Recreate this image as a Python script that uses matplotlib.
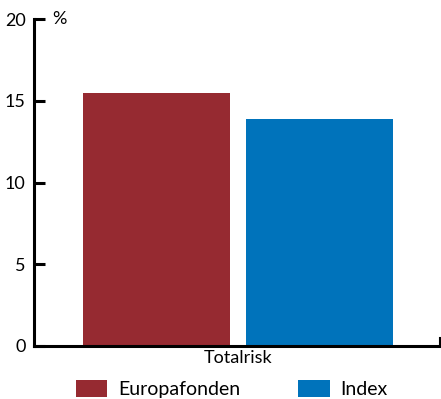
import matplotlib
matplotlib.use('Agg')
import matplotlib.pyplot as plt
import numpy as np

plt.rcParams['font.family'] = ['Lato', 'DejaVu Sans']

categories = ['Totalrisk']
series = ['Europafonden', 'Index']
values = [[15.5], [13.9]]
colors = ['#962a31', '#0073bb']
yticks = [0, 5, 10, 15, 20]

fig = plt.figure(figsize=(4.41, 3.99), dpi=100)
ax = fig.add_axes([34 / 441, 1 - 346 / 399, 406 / 441, 327 / 399])

x = np.arange(len(categories))
width = 0.9
offsets = [-0.5, 0.5]
for vals, off, col, name in zip(values, offsets, colors, series):
    ax.bar(x + off, vals, width, color=col, label=name, zorder=1)

ax.set_xlim(-1.2515, 1.239)
ax.set_ylim(0, 20)
ax.set_yticks(yticks)
ax.set_xticks(x)
ax.set_xticklabels(categories)

for s in ['top', 'right']:
    ax.spines[s].set_visible(False)
for s in ['left', 'bottom']:
    ax.spines[s].set_linewidth(2.2)
    ax.spines[s].set_zorder(3)

ax.tick_params(axis='y', direction='in', length=8, width=2.2, labelsize=13, pad=6)
ax.tick_params(axis='x', length=0, labelsize=13, pad=3)

# small end mark on the right of the baseline
ax.plot([1, 1], [0, 0.025], transform=ax.transAxes, color='black',
        lw=1.5, clip_on=False)

ax.text(0.045, 1.0, '%', transform=ax.transAxes, fontsize=13,
        ha='left', va='center')

fig.legend(loc='lower left', ncol=2, frameon=False, fontsize=14,
           bbox_to_anchor=(0.155, -0.018), handlelength=1.6, handleheight=0.95,
           handletextpad=0.55, columnspacing=3.0, borderaxespad=0)

plt.savefig('out.png', dpi=100)
